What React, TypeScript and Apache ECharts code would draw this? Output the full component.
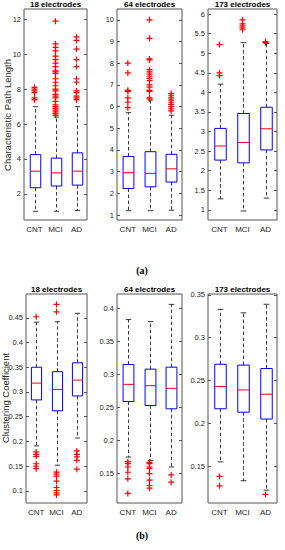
import React, { useEffect, useRef } from "react";
import * as echarts from "echarts";

const categories = ["CNT", "MCI", "AD"];
const panelTitles = ["18 electrodes", "64 electrodes", "173 electrodes"];

// [min, Q1, median, Q3, max] per category (CNT, MCI, AD)
const cpl18Stats = [
  [1.0, 2.35, 3.3, 4.25, 7.0],
  [1.0, 2.45, 3.2, 4.05, 6.4],
  [1.05, 2.5, 3.3, 4.35, 7.0],
];
const cpl64Stats = [
  [1.2, 2.22, 2.95, 3.7, 5.72],
  [1.2, 2.3, 2.92, 3.92, 6.3],
  [1.22, 2.52, 3.13, 3.8, 5.6],
];
const cpl173Stats = [
  [1.28, 2.27, 2.63, 3.08, 4.21],
  [0.97, 2.2, 2.72, 3.46, 5.27],
  [1.3, 2.53, 3.07, 3.62, 5.25],
];
const cc18Stats = [
  [0.191, 0.284, 0.318, 0.35, 0.441],
  [0.152, 0.262, 0.305, 0.341, 0.442],
  [0.207, 0.292, 0.324, 0.359, 0.459],
];
const cc64Stats = [
  [0.175, 0.259, 0.285, 0.315, 0.383],
  [0.17, 0.253, 0.283, 0.308, 0.38],
  [0.16, 0.248, 0.279, 0.311, 0.406],
];
const cc173Stats = [
  [0.155, 0.217, 0.243, 0.269, 0.333],
  [0.133, 0.213, 0.239, 0.268, 0.329],
  [0.122, 0.205, 0.234, 0.264, 0.339],
];

// outliers: [categoryIndex, value]
const cpl18Outliers = [
  [0, 7.4], [0, 7.5], [0, 7.8], [0, 7.9], [0, 8.0], [0, 8.1],
  [1, 6.5], [1, 6.6], [1, 6.7], [1, 6.8], [1, 6.9], [1, 7.0], [1, 7.1], [1, 7.3],
  [1, 7.5], [1, 7.6], [1, 7.7], [1, 7.9], [1, 8.0], [1, 8.2], [1, 8.4], [1, 8.6],
  [1, 8.9], [1, 9.0], [1, 9.05], [1, 9.3], [1, 9.5], [1, 9.7], [1, 9.9], [1, 10.2],
  [1, 10.4], [1, 10.6], [1, 11.9],
  [2, 7.4], [2, 7.5], [2, 7.6], [2, 7.8], [2, 7.9], [2, 8.4], [2, 8.6], [2, 9.3],
  [2, 9.7], [2, 10.3], [2, 10.8], [2, 11.0],
];
const cpl64Outliers = [
  [0, 5.95], [0, 6.2], [0, 6.4], [0, 6.7], [0, 6.75], [0, 7.55], [0, 8.0],
  [1, 6.35], [1, 6.4], [1, 6.7], [1, 6.75], [1, 6.9], [1, 7.0], [1, 7.2], [1, 7.3],
  [1, 7.4], [1, 7.5], [1, 7.6], [1, 7.7], [1, 8.15], [1, 8.2], [1, 9.15], [1, 10.0],
  [2, 5.8], [2, 5.9], [2, 6.0], [2, 6.1], [2, 6.2], [2, 6.3], [2, 6.4], [2, 6.5], [2, 6.6],
];
const cpl173Outliers = [
  [0, 4.43], [0, 4.5], [0, 5.22],
  [1, 5.6], [1, 5.65], [1, 5.7], [1, 5.75], [1, 5.85],
  [2, 5.27], [2, 5.3],
];
const cc18Outliers = [
  [0, 0.452], [0, 0.179], [0, 0.174], [0, 0.17], [0, 0.155], [0, 0.15], [0, 0.145],
  [1, 0.462], [1, 0.477], [1, 0.138], [1, 0.134], [1, 0.13], [1, 0.12], [1, 0.107],
  [1, 0.101], [1, 0.096], [1, 0.092],
  [2, 0.181], [2, 0.174], [2, 0.169], [2, 0.162], [2, 0.144],
];
const cc64Outliers = [
  [0, 0.168], [0, 0.165], [0, 0.16], [0, 0.152], [0, 0.142], [0, 0.12],
  [1, 0.167], [1, 0.165], [1, 0.16], [1, 0.158], [1, 0.15], [1, 0.14], [1, 0.132], [1, 0.128],
  [2, 0.148], [2, 0.137],
];
const cc173Outliers = [
  [0, 0.138], [0, 0.127],
  [2, 0.117],
];

const cpl18Ticks = [2, 4, 6, 8, 10, 12];
const cpl64Ticks = [1, 2, 3, 4, 5, 6, 7, 8, 9, 10];
const cpl173Ticks = [1, 1.5, 2, 2.5, 3, 3.5, 4, 4.5, 5, 5.5, 6];
const cc18Ticks = [0.1, 0.15, 0.2, 0.25, 0.3, 0.35, 0.4, 0.45];
const cc64Ticks = [0.15, 0.2, 0.25, 0.3, 0.35, 0.4];
const cc173Ticks = [0.15, 0.2, 0.25, 0.3, 0.35];

const yRanges = [
  [0.5, 12.6], [0.77, 10.5], [0.74, 6.13],
  [0.0757, 0.498], [0.1055, 0.4217], [0.107, 0.351],
];

const FONT = "Liberation Sans, Arial, Helvetica, sans-serif";

function renderBox(params: any, api: any) {
  const x = api.value(0);
  const mn = api.value(1), q1 = api.value(2), md = api.value(3), q3 = api.value(4), mx = api.value(5);
  const band = api.size([1, 0])[0];
  const bw = band * 0.5;
  const pMin = api.coord([x, mn]);
  const pQ1 = api.coord([x, q1]);
  const pMd = api.coord([x, md]);
  const pQ3 = api.coord([x, q3]);
  const pMax = api.coord([x, mx]);
  const cx = Math.round(pMin[0]) + 0.5;
  const capW = bw * 0.5;
  const whiskerStyle = { stroke: "#222", lineWidth: 0.9, lineDash: [3.5, 2.5] };
  const capStyle = { stroke: "#222", lineWidth: 0.9 };
  return {
    type: "group",
    children: [
      { type: "line", shape: { x1: cx, y1: pQ3[1], x2: cx, y2: pMax[1] }, style: whiskerStyle },
      { type: "line", shape: { x1: cx, y1: pQ1[1], x2: cx, y2: pMin[1] }, style: whiskerStyle },
      { type: "line", shape: { x1: cx - capW / 2, y1: pMax[1], x2: cx + capW / 2, y2: pMax[1] }, style: capStyle },
      { type: "line", shape: { x1: cx - capW / 2, y1: pMin[1], x2: cx + capW / 2, y2: pMin[1] }, style: capStyle },
      {
        type: "rect",
        shape: { x: cx - bw / 2, y: pQ3[1], width: bw, height: pQ1[1] - pQ3[1] },
        style: { fill: "none", stroke: "#0000ff", lineWidth: 1 },
      },
      { type: "line", shape: { x1: cx - bw / 2, y1: pMd[1], x2: cx + bw / 2, y2: pMd[1] }, style: { stroke: "#ff0000", lineWidth: 1 } },
    ],
  };
}

export default function App() {
  const ref = useRef<HTMLDivElement>(null);
  useEffect(() => {
    if (!ref.current) return;
    const chart = echarts.init(ref.current, null, { renderer: "svg" });

    const grids = [
      { left: 24, top: 9, width: 63, height: 211 },
      { left: 117, top: 9, width: 65, height: 211 },
      { left: 208, top: 9, width: 69, height: 211 },
      { left: 26, top: 294, width: 61, height: 209 },
      { left: 117, top: 294, width: 65, height: 209 },
      { left: 208, top: 294, width: 69, height: 209 },
    ];
    const stats = [cpl18Stats, cpl64Stats, cpl173Stats, cc18Stats, cc64Stats, cc173Stats];
    const outliers = [cpl18Outliers, cpl64Outliers, cpl173Outliers, cc18Outliers, cc64Outliers, cc173Outliers];
    const ticks = [cpl18Ticks, cpl64Ticks, cpl173Ticks, cc18Ticks, cc64Ticks, cc173Ticks];

    const xAxis: any[] = [];
    const yAxis: any[] = [];
    const series: any[] = [];
    const graphic: any[] = [];

    grids.forEach((g, i) => {
      xAxis.push({
        type: "category",
        gridIndex: i,
        data: categories,
        boundaryGap: true,
        axisLine: { show: false },
        axisTick: { show: false },
        axisLabel: { color: "#262626", fontSize: 8, fontFamily: FONT, margin: 5, interval: 0, hideOverlap: false },
        splitLine: { show: false },
      });
      const yBase = {
        type: "value",
        gridIndex: i,
        min: yRanges[i][0],
        max: yRanges[i][1],
        splitLine: { show: false },
        axisLine: { show: false },
      };
      yAxis.push({
        ...yBase,
        position: "left",
        axisTick: { show: true, inside: true, length: 3, customValues: ticks[i], lineStyle: { color: "#555" } },
        axisLabel: { show: true, customValues: ticks[i], color: "#262626", fontSize: 7.5, fontFamily: FONT, margin: 3 },
      });
      yAxis.push({
        ...yBase,
        position: "right",
        axisTick: { show: true, inside: true, length: 3, customValues: ticks[i], lineStyle: { color: "#555" } },
        axisLabel: { show: false },
      });
      series.push({
        type: "custom",
        xAxisIndex: i,
        yAxisIndex: i * 2,
        renderItem: renderBox,
        encode: { x: 0, y: [1, 2, 3, 4, 5] },
        data: stats[i].map((s, k) => [k, ...s]),
        z: 2,
      });
      series.push({
        type: "scatter",
        xAxisIndex: i,
        yAxisIndex: i * 2,
        symbol: "path://M4,0H6V4H10V6H6V10H4V6H0V4H4Z",
        symbolSize: 6,
        itemStyle: { color: "#ff0000", opacity: 1 },
        data: outliers[i],
        z: 3,
      });
      graphic.push({
        type: "text",
        x: g.left + g.width / 2,
        y: g.top - 5,
        style: {
          text: panelTitles[i % 3],
          font: `bold 8px ${FONT}`,
          fill: "#000",
          align: "center",
          textAlign: "center",
          verticalAlign: "middle",
          textVerticalAlign: "middle",
        },
      });
    });

    graphic.push({
      type: "text",
      x: 7,
      y: 115,
      rotation: Math.PI / 2,
      style: {
        text: "Characteristic Path Length",
        font: `9.5px ${FONT}`,
        fill: "#262626",
        align: "center",
        textAlign: "center",
        verticalAlign: "middle",
        textVerticalAlign: "middle",
      },
    });
    graphic.push({
      type: "text",
      x: 5,
      y: 398,
      rotation: Math.PI / 2,
      style: {
        text: "Clustering Coefficient",
        font: `9.5px ${FONT}`,
        fill: "#262626",
        align: "center",
        textAlign: "center",
        verticalAlign: "middle",
        textVerticalAlign: "middle",
      },
    });
    graphic.push({
      type: "text",
      x: 142,
      y: 270,
      style: {
        text: "(a)",
        font: `bold 10px Liberation Serif, serif`,
        fill: "#000",
        align: "center",
        textAlign: "center",
        verticalAlign: "middle",
        textVerticalAlign: "middle",
      },
    });
    graphic.push({
      type: "text",
      x: 142,
      y: 535,
      style: {
        text: "(b)",
        font: `bold 10px Liberation Serif, serif`,
        fill: "#000",
        align: "center",
        textAlign: "center",
        verticalAlign: "middle",
        textVerticalAlign: "middle",
      },
    });

    chart.setOption({
      animation: false,
      backgroundColor: "#fff",
      grid: grids.map((g) => ({ ...g, show: true, borderColor: "#555", borderWidth: 1, backgroundColor: "transparent", containLabel: false })),
      xAxis,
      yAxis,
      series,
      graphic,
    });
    return () => chart.dispose();
  }, []);
  return (
    <div
      ref={ref}
      style={{ position: "absolute", left: 0, top: 0, width: 285, height: 550 }}
    />
  );
}
